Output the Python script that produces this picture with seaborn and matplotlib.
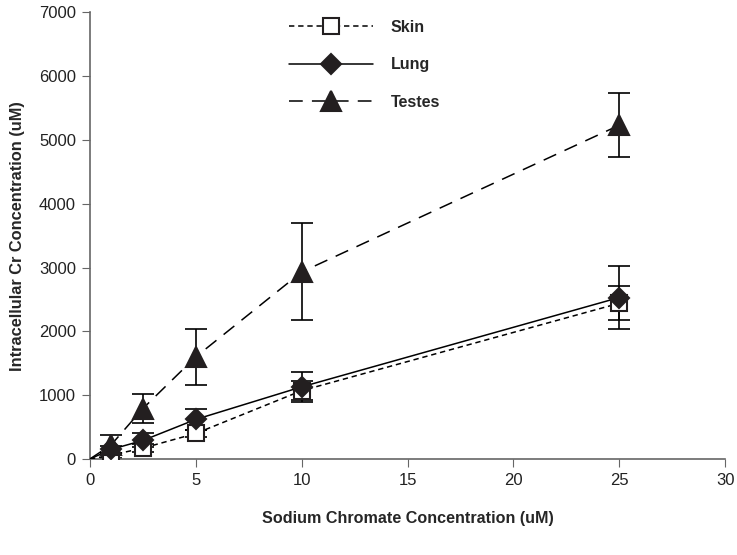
import numpy as np
import matplotlib
matplotlib.use("Agg")
import matplotlib.pyplot as plt
import seaborn as sns
from matplotlib.lines import Line2D

# Sodium chromate concentration (uM); 0 is the unmarked origin the lines start from
conc = [0, 1, 2.5, 5, 10, 25]

skin = [0, 60, 170, 400, 1070, 2440]
skin_err = [0, 40, 60, 60, 150, 270]

lung = [0, 150, 290, 620, 1130, 2530]
lung_err = [0, 60, 110, 160, 240, 500]

testes = [0, 220, 790, 1600, 2930, 5230]
testes_err = [0, 150, 230, 440, 760, 500]

sns.set_style("ticks")
plt.rcParams["font.family"] = ["Liberation Sans", "DejaVu Sans"]

fig = plt.figure(figsize=(7.37, 5.55), dpi=100)
ax = fig.add_axes([0.122, 0.173, 0.862, 0.805])

series = [
    ("Skin", skin, skin_err, "s", "white", (0, (3.5, 2.5)), 11.5),
    ("Lung", lung, lung_err, "D", "#231f20", "-", 10.5),
    ("Testes", testes, testes_err, "^", "#231f20", (0, (9, 6)), 14),
]

handles = []
for name, vals, err, mk, fc, ls, ms in series:
    ax.errorbar(conc[1:], vals[1:], yerr=err[1:], fmt="none", ecolor="black",
                elinewidth=1.2, capsize=8, capthick=1.2, zorder=2)
    sns.lineplot(x=conc, y=vals, ax=ax, color="black", linewidth=1.1,
                 linestyle=ls, marker=mk, markersize=ms, markerfacecolor=fc,
                 markeredgecolor="#231f20", markeredgewidth=1.5,
                 markevery=list(range(1, len(conc))), zorder=3)
    handles.append(Line2D([], [], color="black", linewidth=1.1, linestyle=ls,
                          marker=mk, markersize=ms, markerfacecolor=fc,
                          markeredgecolor="#231f20", markeredgewidth=1.5,
                          label=name))

ax.set_xlim(0, 30)
ax.set_ylim(0, 7000)
ax.set_xticks(range(0, 31, 5))
ax.set_yticks(range(0, 7001, 1000))
ax.tick_params(axis="both", labelsize=12, length=6, color="#666666",
               labelcolor="#222222", pad=4)
for side in ["left", "bottom"]:
    ax.spines[side].set_color("#666666")
    ax.spines[side].set_linewidth(1.2)
sns.despine(ax=ax)

ax.set_xlabel("Sodium Chromate Concentration (uM)", fontsize=11.6,
              fontweight="bold", labelpad=17)
ax.set_ylabel("Intracellular Cr Concentration (uM)", fontsize=11.8,
              fontweight="bold", labelpad=10)

ax.legend(handles=handles, loc="upper left", bbox_to_anchor=(0.29, 1.015),
          frameon=False, handlelength=5.3, labelspacing=1.4, handletextpad=1.1,
          prop={"weight": "bold", "size": 11.5})

fig.savefig("out.png", dpi=100)
